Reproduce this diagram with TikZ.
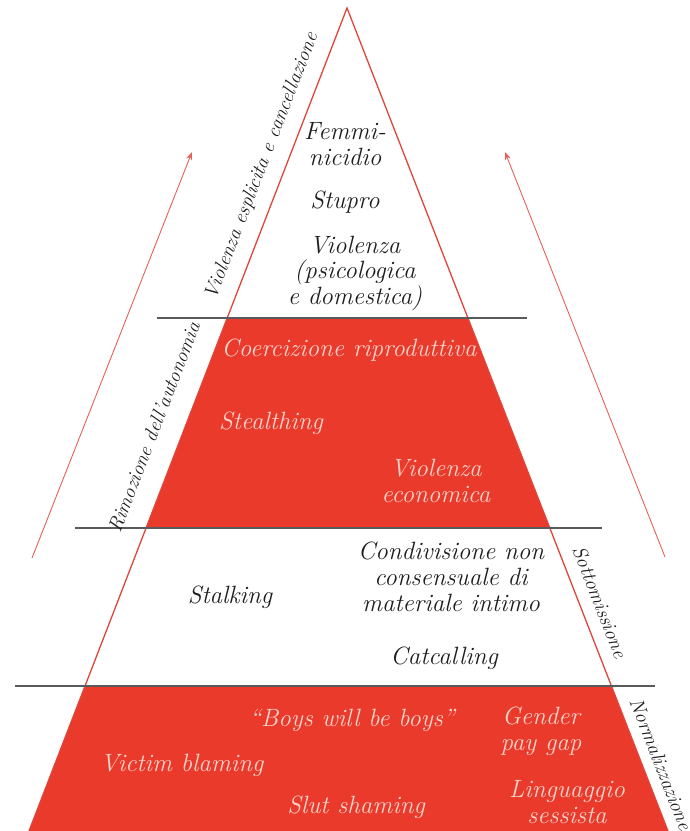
\documentclass[tikz,border=0pt]{standalone}
\usetikzlibrary{arrows.meta,calc}
\definecolor{band}{HTML}{EA3A2C}
\definecolor{edge}{HTML}{E0453A}
\definecolor{rule}{HTML}{5A5A5A}
\definecolor{ink}{HTML}{1E1E1E}
\definecolor{pale}{HTML}{F8D4CB}

\tikzset{
  lbl/.style={font=\fontsize{25}{26}\selectfont\itshape, align=center, inner sep=0pt},
  darklbl/.style={lbl, text=ink},
  palelbl/.style={lbl, text=pale},
  sidelbl/.style={font=\fontsize{20}{22}\selectfont\itshape, text=ink, inner sep=0pt},
  divider/.style={rule, line width=1.4pt},
  rise/.style={edge!85, line width=0.9pt, -{Stealth[length=8pt,width=6pt]}},
}

\begin{document}
\begin{tikzpicture}[x=1pt,y=-1pt]
  \useasboundingbox (0,0) rectangle (690,831);
  \clip (0,0) rectangle (690,831);

  % The pyramid
  \coordinate (apex) at (347,8);
  \coordinate (baseL) at (29,831);
  \coordinate (baseR) at (668,831);

  % Red bands
  \fill[band] ($(apex)!0.3767!(baseL)$) -- ($(apex)!0.6318!(baseL)$)
    -- ($(apex)!0.6318!(baseR)$) -- ($(apex)!0.3767!(baseR)$) -- cycle;
  \fill[band] ($(apex)!0.8238!(baseL)$) -- (baseL) -- (baseR)
    -- ($(apex)!0.8238!(baseR)$) -- cycle;
  \draw[edge, line width=1.3pt] (baseL) -- (apex) -- (baseR);

  % Level dividers
  \foreach \y/\xa/\xb in {318/157/527, 528/75/602, 686/15/655} {
    \draw[divider] (\xa,\y) -- (\xb,\y);
  }

  % Arrows going up
  \coordinate (riseLfoot) at (32,558);
  \coordinate (riseLtip) at (192,152);
  \coordinate (riseRfoot) at (665,557);
  \coordinate (riseRtip) at (505,152);
  \draw[rise] (riseLfoot) -- (riseLtip);
  \draw[rise] (riseRfoot) -- (riseRtip);

  % Top level
  \node[darklbl] (femm) at (345,144) {Femmi-\\nicidio};
  \node[darklbl] (stupro) at (345,202) {Stupro};
  \node[darklbl, font=\fontsize{25}{25}\selectfont\itshape] (viol) at (355,273) {Violenza\\(psicologica\\e domestica)};

  % Second level
  \node[palelbl] (coerc) at (349,350) {Coercizione riproduttiva};
  \node[palelbl] (steal) at (271,423) {Stealthing};
  \node[palelbl] (econ) at (436,481) {Violenza\\economica};

  % Third level
  \node[darklbl] (stalk) at (230,597) {Stalking};
  \node[darklbl] (condiv) at (451,577) {Condivisione non\\consensuale di\\materiale intimo};
  \node[darklbl] (catc) at (444,658) {Catcalling};

  % Base
  \node[palelbl] (boys) at (352,720) {“Boys will be boys”};
  \node[palelbl] (gender) at (541,731) {Gender\\pay gap};
  \node[palelbl] (victim) at (182,765) {Victim blaming};
  \node[palelbl] (slut) at (356,807) {Slut shaming};
  \node[palelbl] (lingua) at (567,802) {Linguaggio\\sessista};

  % Side labels
  \node[sidelbl, rotate=68.9] (esplicita) at (262,166) {Violenza esplicita e cancellazione};
  \node[sidelbl, rotate=68.9] (autonomia) at (154,427) {Rimozione dell'autonomia};
  \node[sidelbl, rotate=-68.7] (sottom) at (600,602) {Sottomissione};
  \node[sidelbl, rotate=-68.7] (normal) at (661,764) {Normalizzazione};
\end{tikzpicture}
\end{document}
